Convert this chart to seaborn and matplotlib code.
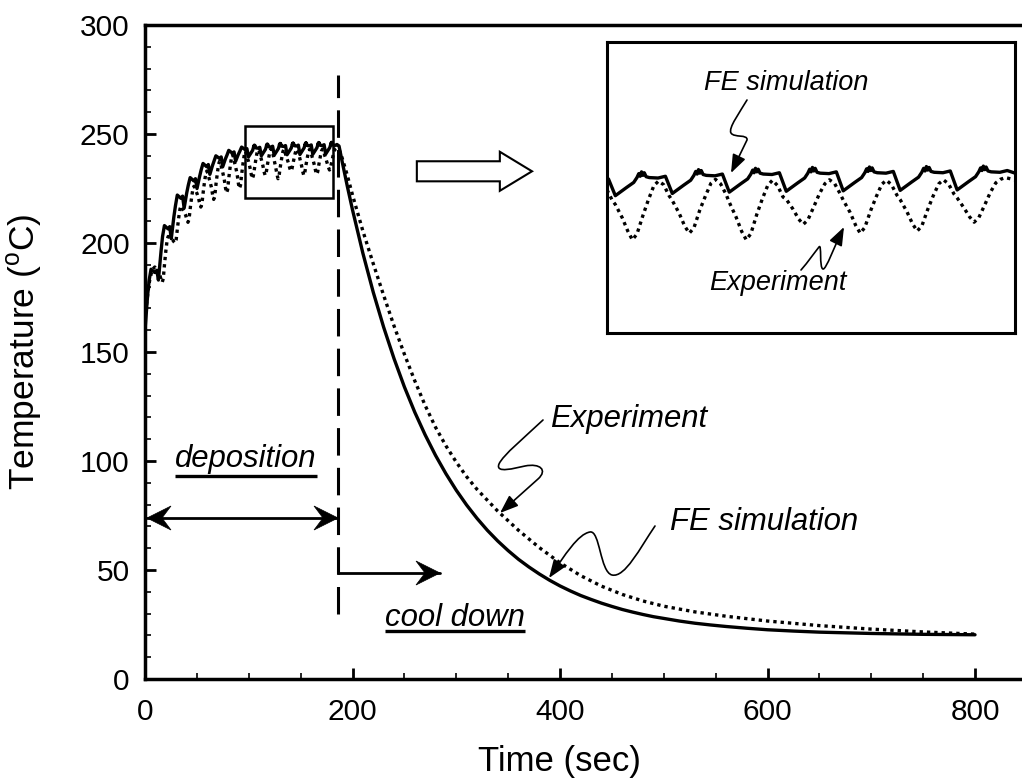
import matplotlib
matplotlib.use('Agg')
import matplotlib.pyplot as plt
import seaborn as sns
from matplotlib.path import Path
from matplotlib.patches import FancyArrowPatch, FancyArrow, Rectangle, Polygon
from matplotlib.lines import Line2D
from matplotlib.transforms import Affine2D
from matplotlib.ticker import MultipleLocator

# FE simulation (solid line): time in sec, temperature in deg C
fe_time = [0, 2.5, 4.0, 5.8, 9.3, 11.4,
           12.9, 15.4, 16.9, 18.7, 22.2, 23.8,
           25.3, 27.8, 29.3, 31.1, 34.6, 36.2,
           37.7, 40.2, 41.7, 43.5, 47.0, 48.6,
           50.1, 52.6, 54.1, 55.9, 59.4, 61.0,
           62.5, 65.0, 66.5, 68.3, 71.8, 73.4,
           74.9, 77.4, 78.9, 80.7, 84.2, 85.8,
           87.3, 89.8, 91.3, 93.1, 96.6, 98.2,
           99.7, 102.2, 103.7, 104.4, 104.8, 105.1, 105.4, 105.7, 106.0, 106.4, 107.1, 109.0, 110.6,
           112.1, 114.6, 116.1, 116.8, 117.2, 117.5, 117.8, 118.1, 118.4, 118.8, 119.5, 121.4, 123.0,
           124.5, 127.0, 128.5, 129.2, 129.6, 129.9, 130.2, 130.5, 130.8, 131.2, 131.9, 133.8, 135.4,
           136.9, 139.4, 140.9, 141.6, 142.0, 142.3, 142.6, 142.9, 143.2, 143.6, 144.3, 146.2, 147.8,
           149.3, 151.8, 153.3, 154.0, 154.4, 154.7, 155.0, 155.3, 155.6, 156.0, 156.7, 158.6, 160.2,
           161.7, 164.2, 165.7, 166.4, 166.8, 167.1, 167.4, 167.7, 168.0, 168.4, 169.1, 171.0, 172.6,
           174.1, 176.6, 178.1, 178.8, 179.2, 179.5, 179.8, 180.1, 180.4, 180.8, 181.5, 183.4, 185.0,
           187, 190, 195, 200, 210, 220, 230, 240, 250, 260, 270, 280, 290, 300,
           310, 320, 330, 340, 350, 360, 370, 380, 390, 400, 410, 420, 430, 440,
           450, 460, 470, 480, 490, 500, 515, 530, 545, 560, 580, 600, 625,
           650, 675, 700, 750, 800]
fe_temp = [160, 176, 183, 188, 186.5, 187.5,
           183, 196, 203, 208, 206.5, 207.5,
           202, 212, 217, 222, 220.5, 221.5,
           216, 223, 226.5, 230, 228.5, 229.5,
           225, 230.5, 233.5, 236.5, 235, 236,
           231.5, 235.5, 237.5, 240, 238.8, 239.5,
           235, 238.5, 240.2, 242.5, 241.2, 241.8,
           237.5, 240.5, 242, 244, 242.8, 243.3,
           239.5, 241.4, 242.5, 243.6, 244.5, 243.9, 244.9, 244.1, 244.7, 243.8, 243.6, 243.5, 243.9,
           240.0, 241.9, 243.0, 244.1, 245.0, 244.4, 245.4, 244.6, 245.2, 244.3, 244.1, 244.0, 244.4,
           240.3, 242.2, 243.3, 244.4, 245.3, 244.7, 245.7, 244.9, 245.5, 244.6, 244.4, 244.3, 244.7,
           240.5, 242.4, 243.5, 244.6, 245.5, 244.9, 245.9, 245.1, 245.7, 244.8, 244.6, 244.5, 244.9,
           240.6, 242.5, 243.6, 244.7, 245.6, 245.0, 246.0, 245.2, 245.8, 244.9, 244.7, 244.6, 245.0,
           240.7, 242.6, 243.7, 244.8, 245.7, 245.1, 246.1, 245.3, 245.9, 245.0, 244.8, 244.7, 245.1,
           240.8, 242.7, 243.8, 244.9, 245.8, 245.2, 246.2, 245.4, 246.0, 245.1, 244.9, 244.8, 245.2,
           244.5, 237.4, 226.0, 215.2, 195.3, 177.4, 161.4, 147.0, 134.0, 122.4, 112.0, 102.6, 94.2, 86.6,
           79.8, 73.7, 68.2, 63.3, 58.9, 54.9, 51.4, 48.2, 45.3, 42.7, 40.4, 38.3, 36.5, 34.8,
           33.3, 31.9, 30.7, 29.6, 28.6, 27.8, 26.6, 25.6, 24.8, 24.1, 23.3, 22.6, 22.0,
           21.5, 21.2, 20.9, 20.5, 20.3]

# Experiment (dotted line)
exp_time = [0, 1.5, 3.0, 4.5, 6.0, 7.5, 9.4, 10.5, 11.7,
            12.9, 14.4, 15.6, 16.6, 17.6, 18.9, 20.1, 21.3, 22.3, 23.4, 24.6,
            25.3, 26.8, 28.0, 29.0, 30.0, 31.3, 32.5, 33.7, 34.7, 35.8, 37.0,
            37.7, 39.2, 40.4, 41.4, 42.4, 43.7, 44.9, 46.1, 47.1, 48.2, 49.4,
            50.1, 51.6, 52.8, 53.8, 54.8, 56.1, 57.3, 58.5, 59.5, 60.6, 61.8,
            62.5, 64.0, 65.2, 66.2, 67.2, 68.5, 69.7, 70.9, 71.9, 73.0, 74.2,
            74.9, 76.4, 77.6, 78.6, 79.6, 80.9, 82.1, 83.3, 84.3, 85.4, 86.6,
            87.3, 88.8, 90.0, 91.0, 92.0, 93.3, 94.5, 95.7, 96.7, 97.8, 99.0,
            99.7, 101.2, 102.4, 103.4, 104.4, 105.7, 106.9, 108.1, 109.1, 110.2, 111.4,
            112.1, 113.6, 114.8, 115.8, 116.8, 118.1, 119.3, 120.5, 121.5, 122.6, 123.8,
            124.5, 126.0, 127.2, 128.2, 129.2, 130.5, 131.7, 132.9, 133.9, 135.0, 136.2,
            136.9, 138.4, 139.6, 140.6, 141.6, 142.9, 144.1, 145.3, 146.3, 147.4, 148.6,
            149.3, 150.8, 152.0, 153.0, 154.0, 155.3, 156.5, 157.7, 158.7, 159.8, 161.0,
            161.7, 163.2, 164.4, 165.4, 166.4, 167.7, 168.9, 170.1, 171.1, 172.2, 173.4,
            174.1, 175.6, 176.8, 177.8, 178.8, 180.1, 181.3, 182.5, 183.5, 184.6,
            187, 190, 195, 200, 210, 220, 230, 240, 250, 260, 270, 280, 290, 300,
            310, 320, 340, 360, 380, 400, 420, 440, 460, 480, 500, 530, 560, 600,
            650, 700, 750, 800]
exp_temp = [165, 172, 178, 183, 186, 188, 189, 188, 186,
            186.5, 185, 183, 182, 183.7, 190.8, 196.5, 201.3, 203, 202.8, 202.2,
            202, 201.3, 200.5, 200, 201.4, 207, 211.7, 215.6, 217, 216.4, 215,
            214.4, 212.7, 210.6, 209.5, 210.8, 216.4, 220.9, 224.7, 226, 225.2, 223.4,
            222.7, 220.5, 217.9, 216.5, 217.8, 223.4, 227.9, 231.7, 233, 232, 229.5,
            228.5, 225.5, 222, 220, 221.4, 227.4, 232, 236.1, 237.5, 236.3, 233.6,
            232.4, 229.1, 225.2, 223, 224.4, 230.4, 235.1, 239.1, 240.5, 239.3, 236.3,
            235, 231.5, 227.3, 225, 226.4, 232.1, 236.7, 240.6, 242, 241, 238.5,
            237.5, 234.5, 231.5, 229.5, 230.8, 235, 238.6, 241.8, 242.8, 242, 239.5,
            238.4, 235.5, 232.6, 231, 232.2, 236.3, 239.4, 242.3, 243.2, 242.2, 239.8,
            238, 234.6, 231.4, 229.5, 230.9, 235.3, 238.8, 241.9, 243, 241.8, 239.2,
            238.7, 236.4, 234.2, 233, 234, 237, 239.9, 242.2, 243.1, 242.3, 240,
            238.5, 235.7, 232.8, 231, 232.3, 236.2, 239.3, 242.1, 243, 242, 239.6,
            238.6, 235.8, 233.1, 231.5, 232.6, 236.4, 239.5, 242.2, 243.1, 242.2, 239.9,
            239, 236.7, 234.7, 233.5, 234.5, 237.4, 240.2, 242.4, 243.2, 243.6,
            243, 239, 231, 222, 205.5, 190.5, 176, 162, 149, 136.8, 125.5, 115.5, 107, 99.5,
            92.8, 87, 77, 68.2, 60.3, 53.3, 47.4, 42.6, 38.8, 35.8, 33.4, 30.8, 28.8, 26.6,
            24.5, 22.9, 21.6, 20.6]

x_ticks = [0, 200, 400, 600, 800]
y_ticks = [0, 50, 100, 150, 200, 250, 300]

sns.set_style('ticks')
plt.rcParams['font.family'] = ['Liberation Sans', 'DejaVu Sans']
plt.rcParams['mathtext.fontset'] = 'custom'
plt.rcParams['mathtext.rm'] = 'Liberation Sans'
plt.rcParams['mathtext.it'] = 'Liberation Sans:italic'
for key in ['text.color', 'axes.labelcolor', 'xtick.color', 'ytick.color', 'axes.edgecolor']:
    plt.rcParams[key] = 'black'

fig = plt.figure(figsize=(10.22, 7.84), dpi=100)
ax = fig.add_axes([0.1419, 0.1339, 0.8581, 0.8342])

dotted = (0, (1, 1.2))


def draw_curves(a, lw):
    sns.lineplot(x=fe_time, y=fe_temp, ax=a, color='black', linewidth=lw,
                 estimator=None, sort=False)
    sns.lineplot(x=exp_time, y=exp_temp, ax=a, color='black', linewidth=lw,
                 linestyle=dotted, estimator=None, sort=False)


draw_curves(ax, 2.4)

ax.set_xlim(0, 845.3)
ax.set_ylim(0, 300)
ax.set_xticks(x_ticks)
ax.set_yticks(y_ticks)
ax.xaxis.set_minor_locator(MultipleLocator(50))
ax.yaxis.set_minor_locator(MultipleLocator(10))
ax.tick_params(which='both', direction='in', top=False, right=False)
ax.tick_params(which='major', length=8, width=2, labelsize=21.5)
ax.tick_params(which='minor', length=4.5, width=1.2)
ax.tick_params(axis='x', which='major', pad=14)
ax.tick_params(axis='y', which='major', pad=11)
for s in ['left', 'bottom', 'top']:
    ax.spines[s].set_linewidth(2.5)
ax.spines['right'].set_visible(False)

ax.set_xlabel('Time (sec)', fontsize=25)
ax.xaxis.set_label_coords(0.473, -0.101)
ax.set_ylabel(r'Temperature ($^{\rm o}$C)', fontsize=25.5)
ax.yaxis.set_label_coords(-0.115, 0.5)

# end of deposition
ax.axvline(186, ymin=30 / 300, ymax=277 / 300, color='black', lw=2.2,
           dashes=(9, 4))

# zoom box and hollow arrow toward the inset
ax.add_patch(Rectangle((96.4, 220.6), 84.8, 33.1, fill=False, ec='black', lw=1.8))
ax.add_patch(FancyArrow(262, 232.9, 111, 0, width=9.2, head_width=17.9,
                        head_length=31, length_includes_head=True,
                        fc='white', ec='black', lw=1.5))

lab_kw = dict(style='italic', fontsize=22.4, ha='center', va='baseline')
t_dep = ax.text(97.3, 97.2, 'deposition', **lab_kw)
t_cool = ax.text(298.8, 24.3, 'cool down', **lab_kw)
ax.text(466.5, 115.6, 'Experiment', **lab_kw)
ax.text(596.6, 68.3, 'FE simulation', **lab_kw)

# underline the two phase labels
fig.canvas.draw()
for t, y in [(t_dep, 93.1), (t_cool, 22.0)]:
    bb = t.get_window_extent()
    x0, x1 = ax.transData.inverted().transform([[bb.x0, 0], [bb.x1, 0]])[:, 0]
    ax.plot([x0, x1], [y, y], color='black', lw=2.4, solid_capstyle='butt')

# inset with the magnified deposition cycles
axin = fig.add_axes([0.594, 0.5753, 0.3992, 0.3716])
draw_curves(axin, 2.4)
axin.set_xlim(97.9, 186.7)
axin.set_ylim(208.4, 274.4)
axin.set_xticks([])
axin.set_yticks([])
for s in axin.spines.values():
    s.set_visible(True)
    s.set_linewidth(2.2)
in_kw = dict(style='italic', fontsize=19.5, ha='center', va='baseline',
             transform=axin.transAxes)
axin.text(0.439, 0.834, 'FE simulation', **in_kw)
axin.text(0.419, 0.148, 'Experiment', **in_kw)

# annotation arrows, drawn in reference pixel coordinates
pxt = Affine2D().scale(1 / 1022, -1 / 784).translate(0, 1) + fig.transFigure


def stealth_arrow(x0, x1, y, both=False):
    fig.add_artist(Line2D([x0, x1], [y, y], color='black', lw=2, transform=pxt))
    tips = [(x1, 1)] + ([(x0, -1)] if both else [])
    for xt, d in tips:
        head = [(xt, y), (xt - d * 24, y - 12), (xt - d * 15, y), (xt - d * 24, y + 12)]
        fig.add_artist(Polygon(head, closed=True, fc='black', ec='black', lw=0.5,
                               transform=pxt, zorder=5))


stealth_arrow(147, 338, 518, both=True)
stealth_arrow(338, 440, 573)

M, C, L = Path.MOVETO, Path.CURVE4, Path.LINETO
squiggles = [
    ([(543, 420), (525, 437), (503, 455), (499, 464), (495, 474), (515, 468),
      (525, 466), (540, 463), (548, 470), (538, 479), (500, 513)],
     [M, C, C, C, C, C, C, C, C, C, L]),
    ([(655, 526), (640, 548), (625, 578), (612, 575), (600, 572), (600, 530),
      (590, 532), (578, 534), (565, 555), (549, 578)],
     [M, C, C, C, C, C, C, C, C, C]),
    ([(747, 100), (740, 112), (728, 128), (731, 133), (734, 138), (748, 134),
      (747, 140), (731, 173)],
     [M, C, C, C, C, C, C, L]),
    ([(801, 270), (808, 262), (815, 252), (819, 247), (822, 243), (819, 268),
      (823, 269), (826, 270), (835, 245), (844, 227)],
     [M, C, C, C, C, C, C, C, C, C]),
]
for verts, codes in squiggles:
    fig.add_artist(FancyArrowPatch(path=Path(verts, codes), transform=pxt,
                                   arrowstyle='-|>,head_length=0.8,head_width=0.3',
                                   mutation_scale=14, lw=1.2, color='black', zorder=5))

fig.savefig('out.png', dpi=100)
